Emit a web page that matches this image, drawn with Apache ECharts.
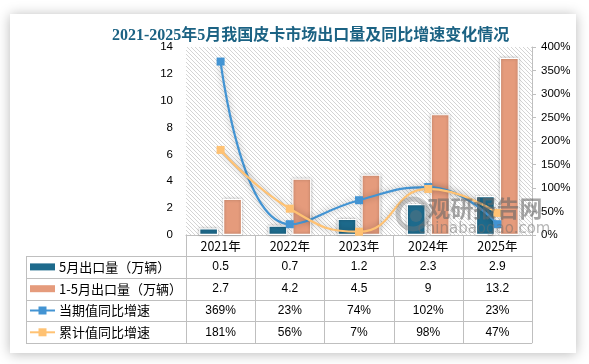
<!DOCTYPE html>
<html>
<head>
<meta charset="utf-8">
<script src="https://cdn.jsdelivr.net/npm/echarts@6/dist/echarts.min.js"></script>
<style>html,body{margin:0;padding:0;background:#fff;}#c{width:589px;height:364px;}</style>
</head>
<body>
<div id="c"></div>
<script>
const categories = ['2021年', '2022年', '2023年', '2024年', '2025年'];
const mayExport = [0.5, 0.7, 1.2, 2.3, 2.9];
const ytdExport = [2.7, 4.2, 4.5, 9, 13.2];
const curGrowth = [369, 23, 74, 102, 23];
const cumGrowth = [181, 56, 7, 98, 47];
const seriesNames = ['5月出口量（万辆）', '1-5月出口量（万辆）', '当期值同比增速', '累计值同比增速'];
const titleText = '2021-2025年5月我国皮卡市场出口量及同比增速变化情况';

const C_DARK = '#1D6A8C', C_SALMON = '#E59B7C', C_BLUE = '#4394D3', C_ORANGE = '#FFC273';
const LINE_C = '#BFBFBF';
const NUM_FONT = '"Liberation Sans","Noto Sans CJK SC",sans-serif';
const CJK_FONT = '"Noto Sans CJK SC",sans-serif';

// hatch pattern
const pc = document.createElement('canvas');
pc.width = 4; pc.height = 4;
const pctx = pc.getContext('2d');
pctx.fillStyle = '#ffffff'; pctx.fillRect(0, 0, 4, 4);
pctx.fillStyle = '#d4d4d4';
for (let i = 0; i < 4; i++) pctx.fillRect(i, i, 1, 1);

const G = {left: 186, top: 47, width: 346, height: 188};

const chart = echarts.init(document.getElementById('c'), null, {renderer: 'canvas'});
chart.setOption({
  animation: false,
  backgroundColor: '#ffffff',
  title: {
    text: titleText, left: 107, top: 23,
    textStyle: {fontFamily: '"Liberation Serif","Noto Sans CJK SC",serif', fontWeight: 'bold', fontSize: 16, color: '#1B6283'}
  },
  grid: {left: G.left, top: G.top, width: G.width, height: G.height, show: true, borderWidth: 0,
    backgroundColor: {image: pc, repeat: 'repeat'}},
  xAxis: {
    type: 'category', data: categories,
    axisLine: {lineStyle: {color: LINE_C, width: 1}},
    axisTick: {show: true, length: 21, lineStyle: {color: LINE_C}},
    axisLabel: {margin: 5, color: '#000', fontSize: 12.5, fontFamily: CJK_FONT}
  },
  yAxis: [{
    type: 'value', min: 0, max: 14, interval: 2,
    axisLine: {show: false}, axisTick: {show: false}, splitLine: {show: false},
    axisLabel: {margin: 13, color: '#000', fontSize: 11.5, fontFamily: NUM_FONT}
  }, {
    type: 'value', min: 0, max: 400, interval: 50, position: 'right',
    axisLine: {show: true, lineStyle: {color: LINE_C}},
    axisTick: {show: true, length: 4, lineStyle: {color: LINE_C}},
    splitLine: {show: false},
    axisLabel: {margin: 9, color: '#000', fontSize: 11.5, fontFamily: NUM_FONT, formatter: '{value}%'}
  }],
  series: [{
    name: seriesNames[0], type: 'bar', data: mayExport, barWidth: 19, barGap: '26%',
    itemStyle: {color: C_DARK, borderColor: '#fff', borderWidth: 1.2, shadowBlur: 3, shadowColor: 'rgba(0,0,0,0.3)'}
  }, {
    name: seriesNames[1], type: 'bar', data: ytdExport, barWidth: 19,
    itemStyle: {color: C_SALMON, borderColor: '#fff', borderWidth: 1.2, shadowBlur: 3, shadowColor: 'rgba(0,0,0,0.3)'}
  }, {
    name: seriesNames[2], type: 'line', yAxisIndex: 1, data: curGrowth, smooth: 0.5,
    symbol: 'rect', symbolSize: 8, showSymbol: true,
    lineStyle: {color: C_BLUE, width: 2.2, shadowBlur: 6, shadowColor: 'rgba(0,0,0,0.3)'},
    itemStyle: {color: C_BLUE}
  }, {
    name: seriesNames[3], type: 'line', yAxisIndex: 1, data: cumGrowth, smooth: 0.5,
    symbol: 'rect', symbolSize: 8, showSymbol: true,
    lineStyle: {color: C_ORANGE, width: 2.2, shadowBlur: 6, shadowColor: 'rgba(0,0,0,0.3)'},
    itemStyle: {color: C_ORANGE}
  }]
});

// table built from the axis scale
const centers = categories.map((c, i) => chart.convertToPixel({xAxisIndex: 0}, c));
const band = centers[1] - centers[0];
const tblLeft = 26, rowTop = 256, rowH = 21.8, nRows = 4;
const tblRight = centers[centers.length - 1] + band / 2;
const gridLeftPx = centers[0] - band / 2;
const tableBottom = rowTop + rowH * nRows;
const graphics = [];

// card
graphics.push({type: 'rect', z: -10, shape: {x: 10, y: 14, width: 566, height: 339},
  style: {fill: '#fff', shadowBlur: 12, shadowColor: 'rgba(0,0,0,0.28)', shadowOffsetX: 0, shadowOffsetY: 1}});

for (let r = 0; r <= nRows; r++) {
  const y = Math.round(rowTop + r * rowH) + 0.5;
  graphics.push({type: 'line', z: 5, shape: {x1: tblLeft, y1: y, x2: tblRight, y2: y}, style: {stroke: LINE_C, lineWidth: 1}});
}
const vx = [tblLeft];
for (let i = 0; i <= categories.length; i++) vx.push(gridLeftPx + i * band);
vx.forEach(x => {
  const xx = Math.round(x) + 0.5;
  graphics.push({type: 'line', z: 5, shape: {x1: xx, y1: rowTop, x2: xx, y2: tableBottom}, style: {stroke: LINE_C, lineWidth: 1}});
});

const rowsData = [
  mayExport.map(String), ytdExport.map(String),
  curGrowth.map(v => v + '%'), cumGrowth.map(v => v + '%')
];
const rowColors = [C_DARK, C_SALMON, C_BLUE, C_ORANGE];
for (let r = 0; r < nRows; r++) {
  const cy = rowTop + r * rowH + rowH / 2;
  if (r < 2) {
    graphics.push({type: 'rect', z: 6, shape: {x: 30, y: cy - 3.5, width: 25, height: 7}, style: {fill: rowColors[r]}});
  } else {
    graphics.push({type: 'line', z: 6, shape: {x1: 30, y1: cy, x2: 55, y2: cy}, style: {stroke: rowColors[r], lineWidth: 2}});
    graphics.push({type: 'rect', z: 7, shape: {x: 38.5, y: cy - 4, width: 8, height: 8}, style: {fill: rowColors[r]}});
  }
  graphics.push({type: 'text', z: 6, x: 59, y: cy, style: {text: seriesNames[r], fill: '#000', font: '13px ' + CJK_FONT, textAlign: 'left', textVerticalAlign: 'middle'}});
  rowsData[r].forEach((t, i) => {
    graphics.push({type: 'text', z: 6, x: centers[i], y: cy, style: {text: t, fill: '#000', font: '12px ' + NUM_FONT, textAlign: 'center', textVerticalAlign: 'middle'}});
  });
}

// watermark
graphics.push({type: 'circle', z: 50, shape: {cx: 413, cy: 214, r: 15}, style: {fill: 'none', stroke: 'rgba(120,120,120,0.4)', lineWidth: 5}});
graphics.push({type: 'circle', z: 50, shape: {cx: 416, cy: 216, r: 6}, style: {fill: 'rgba(120,120,120,0.35)'}});
graphics.push({type: 'text', z: 50, x: 485, y: 208, style: {text: '观研报告网', fill: 'rgba(105,105,105,0.6)', font: 'bold 23px ' + CJK_FONT, textAlign: 'center', textVerticalAlign: 'middle'}});
graphics.push({type: 'text', z: 50, x: 484, y: 229, style: {text: 'chinabaogao.com', fill: 'rgba(110,110,110,0.5)', font: '15px "DejaVu Sans",sans-serif', textAlign: 'center', textVerticalAlign: 'middle'}});

chart.setOption({graphic: {elements: graphics}});
</script>
</body>
</html>
